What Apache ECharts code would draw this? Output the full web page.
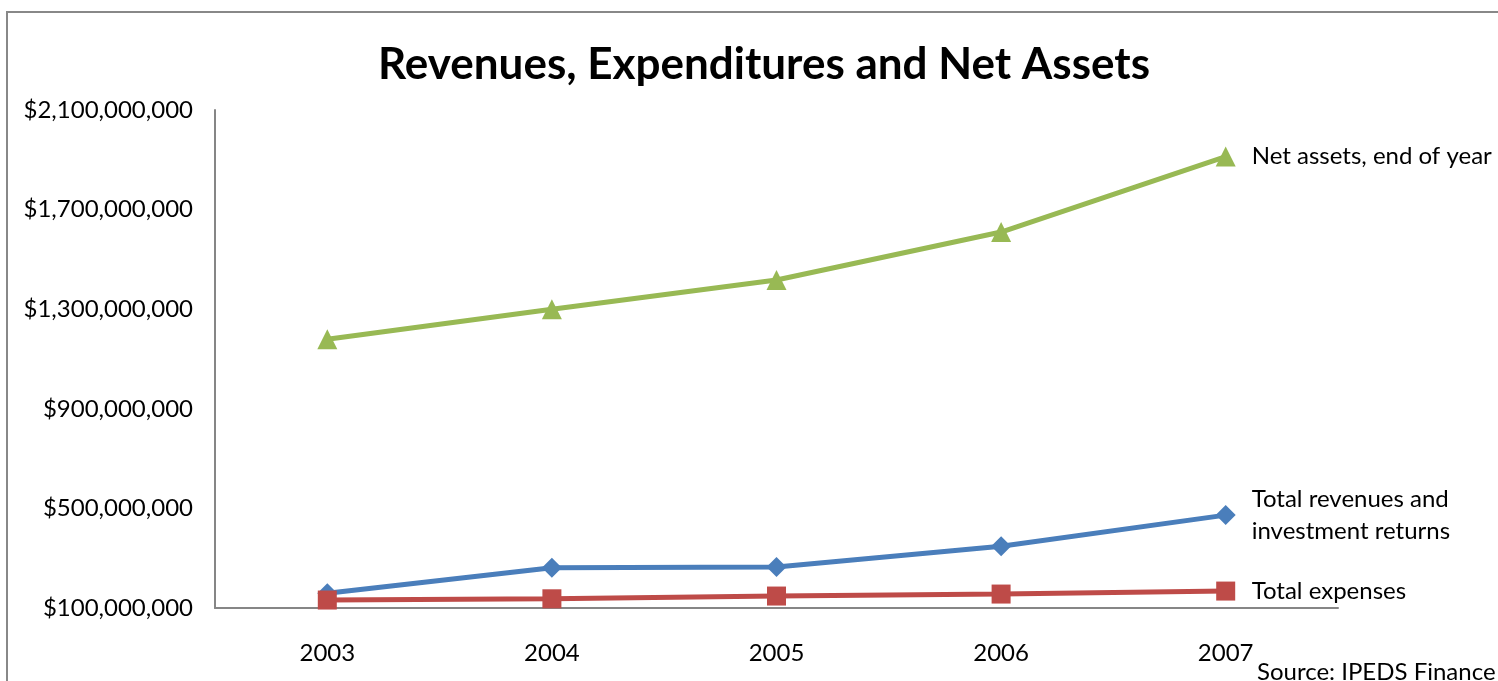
<!DOCTYPE html>
<html>
<head>
<meta charset="utf-8">
<script src="https://cdn.jsdelivr.net/npm/echarts@6/dist/echarts.min.js"></script>
<style>
html,body{margin:0;padding:0;background:#fff;}
#c{width:1498px;height:681px;}
</style>
</head>
<body>
<div id="c"></div>
<script>
const years = ['2003', '2004', '2005', '2006', '2007'];
const netAssets = [1179000000, 1300000000, 1417000000, 1610000000, 1913000000];
const totalRevenues = [159000000, 262000000, 265000000, 348000000, 473000000];
const totalExpenses = [132000000, 137000000, 148000000, 156000000, 168000000];
const yTicks = [100000000, 500000000, 900000000, 1300000000, 1700000000, 2100000000];
const seriesNames = ['Net assets, end of year', 'Total revenues and\ninvestment returns', 'Total expenses'];

const FONT = 'Lato';
const chart = echarts.init(document.getElementById('c'), null, {renderer: 'canvas'});

function mkSeries(name, data, color, symbol, size) {
  return {
    name: name,
    type: 'line',
    data: data,
    symbol: symbol,
    symbolSize: size,
    lineStyle: {color: color, width: 5},
    itemStyle: {color: color},
    animation: false,
    z: 3,
    endLabel: {
      show: true,
      formatter: name,
      distance: 26,
      color: '#000',
      fontFamily: FONT,
      fontSize: 24,
      lineHeight: 32,
      align: 'left'
    }
  };
}

chart.setOption({
  animation: false,
  backgroundColor: '#fff',
  title: {
    text: 'Revenues, Expenditures and Net Assets',
    left: 759,
    textAlign: 'center',
    top: 38,
    textStyle: {fontFamily: FONT, fontSize: 44, fontWeight: 'bold', color: '#000'}
  },
  graphic: [{
    type: 'rect',
    shape: {x: 7, y: 12, width: 1600, height: 800},
    style: {fill: null, stroke: '#888', lineWidth: 2},
    silent: true
  }, {
    type: 'text',
    left: 1257,
    top: 660,
    style: {text: 'Source: IPEDS Finance', fill: '#000', font: '24px ' + FONT}
  }],
  grid: {left: 215, right: 160, top: 110, bottom: 73, containLabel: false},
  xAxis: {
    type: 'category',
    data: years,
    boundaryGap: true,
    axisLine: {lineStyle: {color: '#868686', width: 2}},
    axisTick: {show: false},
    axisLabel: {color: '#000', fontFamily: FONT, fontSize: 24, margin: 33}
  },
  yAxis: {
    type: 'value',
    min: yTicks[0],
    max: yTicks[yTicks.length - 1],
    interval: yTicks[1] - yTicks[0],
    axisLine: {show: true, lineStyle: {color: '#868686', width: 2}},
    axisTick: {show: false},
    splitLine: {show: false},
    axisLabel: {
      color: '#000', fontFamily: FONT, fontSize: 24, margin: 22,
      formatter: v => '$' + Math.round(v).toLocaleString('en-US')
    }
  },
  series: [
    mkSeries(seriesNames[0], netAssets, '#98B954', 'triangle', 20),
    mkSeries(seriesNames[1], totalRevenues, '#4A7EBB', 'diamond', 20),
    mkSeries(seriesNames[2], totalExpenses, '#BE4B48', 'rect', 19)
  ]
});
</script>
</body>
</html>
